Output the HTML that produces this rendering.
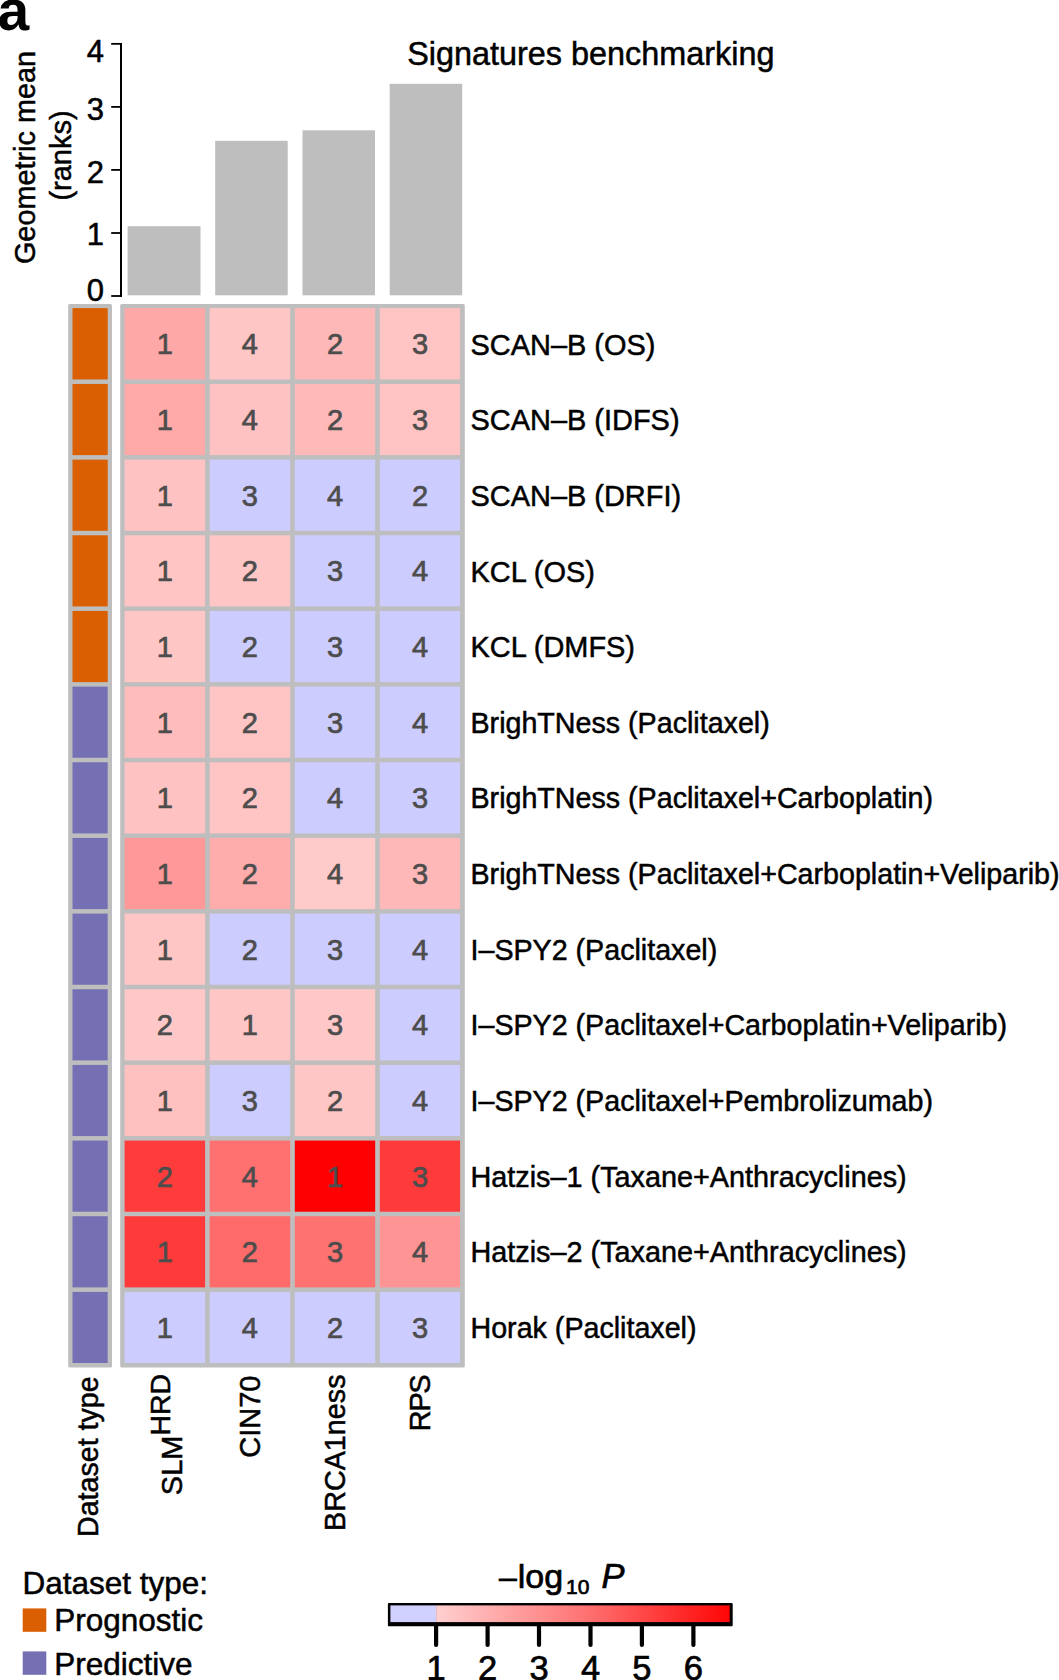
<!DOCTYPE html>
<html lang="en"><head><meta charset="utf-8"><title>Signatures benchmarking</title>
<style>html,body{margin:0;padding:0;background:#fff}body{width:1059px;height:1680px;overflow:hidden}svg{display:block}text{font-family:"Liberation Sans",sans-serif;fill:#000;stroke:#000;stroke-width:.5px}.n{fill:#4d4d4d;stroke:#4d4d4d;stroke-width:.7px;font-size:29px;text-anchor:middle}.r{font-size:28.65px}.c{font-size:29px}.t{font-size:31px;text-anchor:end}.l{font-size:31.5px}.k{font-size:34.5px;stroke-width:.7px}</style></head><body>
<svg width="1059" height="1680" viewBox="0 0 1059 1680">
<rect width="1059" height="1680" fill="#fff"/>
<text x="-2.5" y="29.6" style="font-size:57px;font-weight:bold;stroke:none">a</text>
<text x="407.2" y="65" style="font-size:32.4px">Signatures benchmarking</text>
<rect x="127.6" y="226.2" width="72.9" height="69.1" fill="#bebebe"/>
<rect x="215.2" y="140.8" width="72.5" height="154.5" fill="#bebebe"/>
<rect x="302.5" y="130.3" width="72.5" height="165.0" fill="#bebebe"/>
<rect x="389.7" y="83.8" width="72.5" height="211.5" fill="#bebebe"/>
<path d="M121 42.95V296.90" stroke="#000" stroke-width="2" fill="none"/>
<path d="M111.2 43.85H122" stroke="#000" stroke-width="1.8" fill="none"/>
<path d="M111.2 106.90H122" stroke="#000" stroke-width="1.8" fill="none"/>
<path d="M111.2 169.90H122" stroke="#000" stroke-width="1.8" fill="none"/>
<path d="M111.2 233.00H122" stroke="#000" stroke-width="1.8" fill="none"/>
<path d="M111.2 296.00H122" stroke="#000" stroke-width="1.8" fill="none"/>
<text class="t" x="104" y="61.5">4</text>
<text class="t" x="104" y="120.0">3</text>
<text class="t" x="104" y="182.8">2</text>
<text class="t" x="104" y="244.8">1</text>
<text class="t" x="104" y="301.0">0</text>
<text transform="translate(35 157.5) rotate(-90)" style="font-size:28.85px;text-anchor:middle">Geometric mean</text>
<text transform="translate(71 155.5) rotate(-90)" style="font-size:29px;text-anchor:middle">(ranks)</text>
<rect x="68.2" y="304.0" width="43.8" height="1063.6" rx="1.5" fill="#bebebe"/>
<rect x="72.5" y="308.10" width="35.2" height="71.36" fill="#d95f02"/>
<rect x="72.5" y="383.96" width="35.2" height="71.16" fill="#d95f02"/>
<rect x="72.5" y="459.62" width="35.2" height="71.16" fill="#d95f02"/>
<rect x="72.5" y="535.28" width="35.2" height="71.16" fill="#d95f02"/>
<rect x="72.5" y="610.94" width="35.2" height="71.16" fill="#d95f02"/>
<rect x="72.5" y="686.60" width="35.2" height="71.16" fill="#7570b3"/>
<rect x="72.5" y="762.26" width="35.2" height="71.16" fill="#7570b3"/>
<rect x="72.5" y="837.92" width="35.2" height="71.16" fill="#7570b3"/>
<rect x="72.5" y="913.59" width="35.2" height="71.16" fill="#7570b3"/>
<rect x="72.5" y="989.25" width="35.2" height="71.16" fill="#7570b3"/>
<rect x="72.5" y="1064.91" width="35.2" height="71.16" fill="#7570b3"/>
<rect x="72.5" y="1140.57" width="35.2" height="71.16" fill="#7570b3"/>
<rect x="72.5" y="1216.23" width="35.2" height="71.16" fill="#7570b3"/>
<rect x="72.5" y="1291.89" width="35.2" height="71.11" fill="#7570b3"/>
<rect x="120.2" y="304.0" width="344.6" height="1063.6" rx="1.5" fill="#bebebe"/>
<rect x="124.60" y="308.10" width="80.50" height="71.36" fill="#ffa8a8"/>
<rect x="209.70" y="308.10" width="80.50" height="71.36" fill="#ffc6c6"/>
<rect x="294.80" y="308.10" width="80.40" height="71.36" fill="#ffb8b8"/>
<rect x="379.80" y="308.10" width="80.30" height="71.36" fill="#ffc4c4"/>
<rect x="124.60" y="383.96" width="80.50" height="71.16" fill="#ffa9a9"/>
<rect x="209.70" y="383.96" width="80.50" height="71.16" fill="#ffc2c2"/>
<rect x="294.80" y="383.96" width="80.40" height="71.16" fill="#ffb9b9"/>
<rect x="379.80" y="383.96" width="80.30" height="71.16" fill="#ffc3c3"/>
<rect x="124.60" y="459.62" width="80.50" height="71.16" fill="#ffc2c2"/>
<rect x="209.70" y="459.62" width="80.50" height="71.16" fill="#ccccff"/>
<rect x="294.80" y="459.62" width="80.40" height="71.16" fill="#ccccff"/>
<rect x="379.80" y="459.62" width="80.30" height="71.16" fill="#ccccff"/>
<rect x="124.60" y="535.28" width="80.50" height="71.16" fill="#ffc4c4"/>
<rect x="209.70" y="535.28" width="80.50" height="71.16" fill="#ffc6c6"/>
<rect x="294.80" y="535.28" width="80.40" height="71.16" fill="#ccccff"/>
<rect x="379.80" y="535.28" width="80.30" height="71.16" fill="#ccccff"/>
<rect x="124.60" y="610.94" width="80.50" height="71.16" fill="#ffc6c6"/>
<rect x="209.70" y="610.94" width="80.50" height="71.16" fill="#ccccff"/>
<rect x="294.80" y="610.94" width="80.40" height="71.16" fill="#ccccff"/>
<rect x="379.80" y="610.94" width="80.30" height="71.16" fill="#ccccff"/>
<rect x="124.60" y="686.60" width="80.50" height="71.16" fill="#ffbcbc"/>
<rect x="209.70" y="686.60" width="80.50" height="71.16" fill="#ffc4c4"/>
<rect x="294.80" y="686.60" width="80.40" height="71.16" fill="#ccccff"/>
<rect x="379.80" y="686.60" width="80.30" height="71.16" fill="#ccccff"/>
<rect x="124.60" y="762.26" width="80.50" height="71.16" fill="#ffc2c2"/>
<rect x="209.70" y="762.26" width="80.50" height="71.16" fill="#ffc4c4"/>
<rect x="294.80" y="762.26" width="80.40" height="71.16" fill="#ccccff"/>
<rect x="379.80" y="762.26" width="80.30" height="71.16" fill="#ccccff"/>
<rect x="124.60" y="837.92" width="80.50" height="71.16" fill="#ff9898"/>
<rect x="209.70" y="837.92" width="80.50" height="71.16" fill="#ffacac"/>
<rect x="294.80" y="837.92" width="80.40" height="71.16" fill="#ffcaca"/>
<rect x="379.80" y="837.92" width="80.30" height="71.16" fill="#ffb8b8"/>
<rect x="124.60" y="913.59" width="80.50" height="71.16" fill="#ffc6c6"/>
<rect x="209.70" y="913.59" width="80.50" height="71.16" fill="#ccccff"/>
<rect x="294.80" y="913.59" width="80.40" height="71.16" fill="#ccccff"/>
<rect x="379.80" y="913.59" width="80.30" height="71.16" fill="#ccccff"/>
<rect x="124.60" y="989.25" width="80.50" height="71.16" fill="#ffc8c8"/>
<rect x="209.70" y="989.25" width="80.50" height="71.16" fill="#ffc6c6"/>
<rect x="294.80" y="989.25" width="80.40" height="71.16" fill="#ffc8c8"/>
<rect x="379.80" y="989.25" width="80.30" height="71.16" fill="#ccccff"/>
<rect x="124.60" y="1064.91" width="80.50" height="71.16" fill="#ffc0c0"/>
<rect x="209.70" y="1064.91" width="80.50" height="71.16" fill="#ccccff"/>
<rect x="294.80" y="1064.91" width="80.40" height="71.16" fill="#ffc6c6"/>
<rect x="379.80" y="1064.91" width="80.30" height="71.16" fill="#ccccff"/>
<rect x="124.60" y="1140.57" width="80.50" height="71.16" fill="#ff3c3c"/>
<rect x="209.70" y="1140.57" width="80.50" height="71.16" fill="#ff7070"/>
<rect x="294.80" y="1140.57" width="80.40" height="71.16" fill="#ff0000"/>
<rect x="379.80" y="1140.57" width="80.30" height="71.16" fill="#ff3a3a"/>
<rect x="124.60" y="1216.23" width="80.50" height="71.16" fill="#ff3a3a"/>
<rect x="209.70" y="1216.23" width="80.50" height="71.16" fill="#ff6a6a"/>
<rect x="294.80" y="1216.23" width="80.40" height="71.16" fill="#ff7272"/>
<rect x="379.80" y="1216.23" width="80.30" height="71.16" fill="#ff9494"/>
<rect x="124.60" y="1291.89" width="80.50" height="71.11" fill="#ccccff"/>
<rect x="209.70" y="1291.89" width="80.50" height="71.11" fill="#ccccff"/>
<rect x="294.80" y="1291.89" width="80.40" height="71.11" fill="#ccccff"/>
<rect x="379.80" y="1291.89" width="80.30" height="71.11" fill="#ccccff"/>
<text class="n" x="164.9" y="354.3">1</text>
<text class="n" x="249.9" y="354.3">4</text>
<text class="n" x="335.0" y="354.3">2</text>
<text class="n" x="420.0" y="354.3">3</text>
<text class="r" x="470.5" y="354.5" style="font-size:28.95px">SCAN–B (OS)</text>
<text class="n" x="164.9" y="429.9">1</text>
<text class="n" x="249.9" y="429.9">4</text>
<text class="n" x="335.0" y="429.9">2</text>
<text class="n" x="420.0" y="429.9">3</text>
<text class="r" x="470.5" y="430.1" style="font-size:28.95px">SCAN–B (IDFS)</text>
<text class="n" x="164.9" y="505.6">1</text>
<text class="n" x="249.9" y="505.6">3</text>
<text class="n" x="335.0" y="505.6">4</text>
<text class="n" x="420.0" y="505.6">2</text>
<text class="r" x="470.5" y="505.8" style="font-size:28.95px">SCAN–B (DRFI)</text>
<text class="n" x="164.9" y="581.3">1</text>
<text class="n" x="249.9" y="581.3">2</text>
<text class="n" x="335.0" y="581.3">3</text>
<text class="n" x="420.0" y="581.3">4</text>
<text class="r" x="470.5" y="581.5" style="font-size:28.95px">KCL (OS)</text>
<text class="n" x="164.9" y="656.9">1</text>
<text class="n" x="249.9" y="656.9">2</text>
<text class="n" x="335.0" y="656.9">3</text>
<text class="n" x="420.0" y="656.9">4</text>
<text class="r" x="470.5" y="657.1" style="font-size:28.95px">KCL (DMFS)</text>
<text class="n" x="164.9" y="732.6">1</text>
<text class="n" x="249.9" y="732.6">2</text>
<text class="n" x="335.0" y="732.6">3</text>
<text class="n" x="420.0" y="732.6">4</text>
<text class="r" x="470.5" y="732.8" style="font-size:28.65px">BrighTNess (Paclitaxel)</text>
<text class="n" x="164.9" y="808.2">1</text>
<text class="n" x="249.9" y="808.2">2</text>
<text class="n" x="335.0" y="808.2">4</text>
<text class="n" x="420.0" y="808.2">3</text>
<text class="r" x="470.5" y="808.4" style="font-size:28.65px">BrighTNess (Paclitaxel+Carboplatin)</text>
<text class="n" x="164.9" y="883.9">1</text>
<text class="n" x="249.9" y="883.9">2</text>
<text class="n" x="335.0" y="883.9">4</text>
<text class="n" x="420.0" y="883.9">3</text>
<text class="r" x="470.5" y="884.1" style="font-size:28.65px">BrighTNess (Paclitaxel+Carboplatin+Veliparib)</text>
<text class="n" x="164.9" y="959.6">1</text>
<text class="n" x="249.9" y="959.6">2</text>
<text class="n" x="335.0" y="959.6">3</text>
<text class="n" x="420.0" y="959.6">4</text>
<text class="r" x="470.5" y="959.8" style="font-size:28.65px">I–SPY2 (Paclitaxel)</text>
<text class="n" x="164.9" y="1035.2">2</text>
<text class="n" x="249.9" y="1035.2">1</text>
<text class="n" x="335.0" y="1035.2">3</text>
<text class="n" x="420.0" y="1035.2">4</text>
<text class="r" x="470.5" y="1035.4" style="font-size:28.65px">I–SPY2 (Paclitaxel+Carboplatin+Veliparib)</text>
<text class="n" x="164.9" y="1110.9">1</text>
<text class="n" x="249.9" y="1110.9">3</text>
<text class="n" x="335.0" y="1110.9">2</text>
<text class="n" x="420.0" y="1110.9">4</text>
<text class="r" x="470.5" y="1111.1" style="font-size:28.65px">I–SPY2 (Paclitaxel+Pembrolizumab)</text>
<text class="n" x="164.9" y="1186.5">2</text>
<text class="n" x="249.9" y="1186.5">4</text>
<text class="n" x="335.0" y="1186.5">1</text>
<text class="n" x="420.0" y="1186.5">3</text>
<text class="r" x="470.5" y="1186.7" style="font-size:28.8px">Hatzis–1 (Taxane+Anthracyclines)</text>
<text class="n" x="164.9" y="1262.2">1</text>
<text class="n" x="249.9" y="1262.2">2</text>
<text class="n" x="335.0" y="1262.2">3</text>
<text class="n" x="420.0" y="1262.2">4</text>
<text class="r" x="470.5" y="1262.4" style="font-size:28.8px">Hatzis–2 (Taxane+Anthracyclines)</text>
<text class="n" x="164.9" y="1337.9">1</text>
<text class="n" x="249.9" y="1337.9">4</text>
<text class="n" x="335.0" y="1337.9">2</text>
<text class="n" x="420.0" y="1337.9">3</text>
<text class="r" x="470.5" y="1338.1" style="font-size:28.65px">Horak (Paclitaxel)</text>
<text class="c" transform="translate(97.6 1376.4) rotate(-90)" text-anchor="end" style="font-size:28.6px">Dataset type</text>
<text class="c" transform="translate(181.8 1374) rotate(-90)" text-anchor="end">SLM<tspan dy="-12" style="font-size:28.4px">HRD</tspan></text>
<text class="c" transform="translate(260.3 1375.5) rotate(-90)" text-anchor="end">CIN70</text>
<text class="c" transform="translate(344.8 1374.4) rotate(-90)" text-anchor="end" style="font-size:28.75px">BRCA1ness</text>
<text class="c" transform="translate(429.8 1375.7) rotate(-90)" text-anchor="end" style="letter-spacing:-1.4px">RPS</text>
<text class="l" x="22.5" y="1594">Dataset type:</text>
<rect x="22.7" y="1608.4" width="23.6" height="23.4" fill="#d95f02"/>
<text class="l" x="54.3" y="1631.4">Prognostic</text>
<rect x="22.7" y="1651.4" width="23.6" height="23.4" fill="#7570b3"/>
<text class="l" x="54.3" y="1674.8">Predictive</text>
<defs><linearGradient id="g" x1="0" x2="1" y1="0" y2="0"><stop offset="0" stop-color="#ffd0d0"/><stop offset="0.5" stop-color="#ff7474"/><stop offset="1" stop-color="#ff0606"/></linearGradient></defs>
<rect x="387.9" y="1602.9" width="344.8" height="23.4" rx="1" fill="#000"/>
<rect x="390.4" y="1605.4" width="45.7" height="16.7" fill="#d1d1ff"/>
<rect x="436.1" y="1605.4" width="293.6" height="16.7" fill="url(#g)"/>
<path d="M436.1 1625V1645" stroke="#000" stroke-width="4.2" stroke-linecap="round" fill="none"/>
<text class="k" x="436.1" y="1679.8" text-anchor="middle">1</text>
<path d="M487.6 1625V1645" stroke="#000" stroke-width="4.2" stroke-linecap="round" fill="none"/>
<text class="k" x="487.6" y="1679.8" text-anchor="middle">2</text>
<path d="M539.0 1625V1645" stroke="#000" stroke-width="4.2" stroke-linecap="round" fill="none"/>
<text class="k" x="539.0" y="1679.8" text-anchor="middle">3</text>
<path d="M590.5 1625V1645" stroke="#000" stroke-width="4.2" stroke-linecap="round" fill="none"/>
<text class="k" x="590.5" y="1679.8" text-anchor="middle">4</text>
<path d="M641.9 1625V1645" stroke="#000" stroke-width="4.2" stroke-linecap="round" fill="none"/>
<text class="k" x="641.9" y="1679.8" text-anchor="middle">5</text>
<path d="M693.4 1625V1645" stroke="#000" stroke-width="4.2" stroke-linecap="round" fill="none"/>
<text class="k" x="693.4" y="1679.8" text-anchor="middle">6</text>
<text class="k" y="1587.8"><tspan x="498.9" style="font-size:32px">–</tspan><tspan x="517.8" style="font-size:34px">log</tspan><tspan x="566" y="1594" style="font-size:21px">10</tspan><tspan x="592" y="1587.8" style="font-style:italic"> P</tspan></text>
</svg></body></html>
